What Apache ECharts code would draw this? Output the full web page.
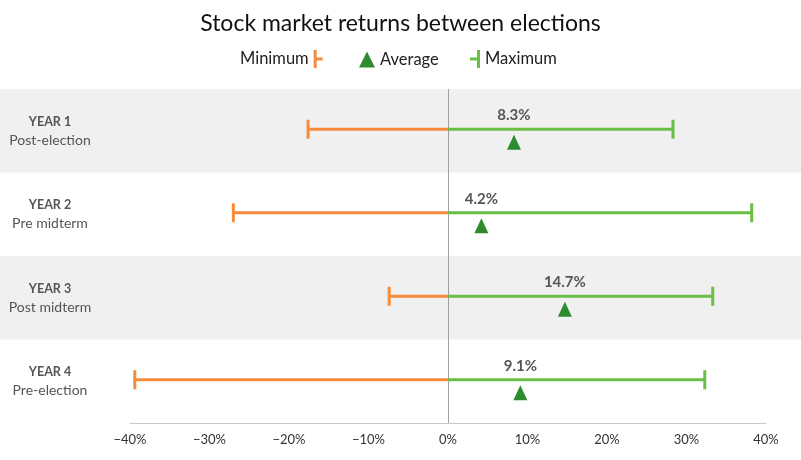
<!DOCTYPE html>
<html>
<head>
<meta charset="utf-8">
<script src="https://cdn.jsdelivr.net/npm/echarts@6/dist/echarts.min.js"></script>
<style>html,body{margin:0;padding:0;background:#fff}#c{width:801px;height:460px}</style>
</head>
<body>
<div id="c"></div>
<script>
const yearLabels = ['YEAR 1', 'YEAR 2', 'YEAR 3', 'YEAR 4'];
const phaseLabels = ['Post-election', 'Pre midterm', 'Post midterm', 'Pre-election'];
const minValues = [-17.6, -27.0, -7.4, -39.4];
const avgValues = [8.3, 4.2, 14.7, 9.1];
const maxValues = [28.3, 38.2, 33.3, 32.3];
const shadedRows = [0, 2];
const xTicks = [-40, -30, -20, -10, 0, 10, 20, 30, 40];

const FONT = 'Lato, "Noto Sans", sans-serif';
const ORANGE = '#F68B3C', LGREEN = '#6BBE45', DGREEN = '#2E8B2E';

function rangeRender(color) {
  return function (params, api) {
    const v = api.value(0), i = api.value(1);
    const p = api.coord([v, i]), z = api.coord([0, i]);
    const y = p[1] - 1.5;
    return {
      type: 'group',
      children: [
        { type: 'line', shape: { x1: z[0], y1: y, x2: p[0], y2: y }, style: { stroke: color, lineWidth: 3 } },
        { type: 'line', shape: { x1: p[0], y1: y - 9.5, x2: p[0], y2: y + 9.5 }, style: { stroke: color, lineWidth: 3 } }
      ]
    };
  };
}

function avgRender(params, api) {
  const v = api.value(0), i = api.value(1);
  const p = api.coord([v, i]);
  const y = p[1] - 1.5;
  const ty = y + 13;
  return {
    type: 'group',
    children: [
      { type: 'polygon', shape: { points: [[p[0], ty - 7.5], [p[0] + 7, ty + 7.5], [p[0] - 7, ty + 7.5]] }, style: { fill: DGREEN } },
      { type: 'text', x: p[0], y: y - 14, style: { text: v.toFixed(1) + '%', textAlign: 'center', textVerticalAlign: 'middle', align: 'center', verticalAlign: 'middle', fontSize: 15, fontWeight: 'bold', fontFamily: FONT, fill: '#555' } }
    ]
  };
}

function bandRender(params, api) {
  const i = api.value(0);
  const c = api.coord([0, i]);
  const h = api.size([0, 1])[1];
  return { type: 'rect', shape: { x: 0, y: c[1] - h / 2, width: api.getWidth(), height: h }, style: { fill: '#F0F0F0' } };
}

const legendText = { fontSize: 16.5, color: '#222', fontFamily: FONT };

const chart = echarts.init(document.getElementById('c'), null, { renderer: 'canvas' });
chart.setOption({
  animation: false,
  backgroundColor: '#fff',
  textStyle: { fontFamily: FONT },
  title: {
    text: 'Stock market returns between elections',
    left: 'center', top: 7,
    textStyle: { fontSize: 23, fontWeight: 'normal', color: '#111', fontFamily: FONT }
  },
  legend: [
    {
      left: 240, top: 50, padding: 0, align: 'right', itemWidth: 9, itemHeight: 18, selectedMode: false,
      textStyle: legendText,
      data: [{ name: 'Minimum', icon: 'path://M0,0L3,0L3,7.5L9,7.5L9,10.5L3,10.5L3,18L0,18Z', itemStyle: { color: ORANGE } }]
    },
    {
      left: 359, top: 51, padding: 0, itemWidth: 16, itemHeight: 16, selectedMode: false,
      textStyle: legendText,
      data: [{ name: 'Average', icon: 'triangle', itemStyle: { color: DGREEN } }]
    },
    {
      left: 470, top: 50, padding: 0, itemWidth: 10, itemHeight: 18, selectedMode: false,
      textStyle: legendText,
      data: [{ name: 'Maximum', icon: 'path://M7,0L10,0L10,18L7,18L7,10.5L0,10.5L0,7.5L7,7.5Z', itemStyle: { color: LGREEN } }]
    }
  ],
  grid: { left: 130, right: 35, top: 89, bottom: 37, containLabel: false },
  xAxis: {
    type: 'value', min: xTicks[0], max: xTicks[xTicks.length - 1], interval: 10,
    axisLine: { show: true, lineStyle: { color: '#C8C8C8', width: 1 } },
    axisTick: { show: false },
    splitLine: { show: false },
    axisLabel: { color: '#333', fontSize: 13, margin: 10, fontFamily: FONT, formatter: v => (v < 0 ? '\u2212' + Math.abs(v) : v) + '%' }
  },
  yAxis: {
    type: 'category', inverse: true,
    data: yearLabels,
    axisLine: { show: false }, axisTick: { show: false }, splitLine: { show: false },
    axisLabel: {
      align: 'center', margin: 80,
      formatter: (val, idx) => '{b|' + val + '}\n{r|' + phaseLabels[idx] + '}',
      rich: {
        b: { fontWeight: 'bold', fontSize: 12.5, color: '#555', lineHeight: 19, fontFamily: FONT },
        r: { fontSize: 14, color: '#555', lineHeight: 18, fontFamily: FONT }
      }
    }
  },
  series: [
    {
      name: 'bands', type: 'custom', z: -1, silent: true, clip: false,
      renderItem: bandRender,
      encode: { y: 0 },
      data: shadedRows.map(i => [i])
    },
    {
      name: 'Minimum', type: 'custom', z: 3, itemStyle: { color: ORANGE },
      renderItem: rangeRender(ORANGE),
      encode: { x: 0, y: 1 },
      data: minValues.map((v, i) => [v, i]),
      markLine: {
        silent: true, symbol: 'none', z: 1, label: { show: false },
        lineStyle: { color: '#A0A0A0', width: 1, type: 'solid' },
        data: [{ xAxis: 0 }]
      }
    },
    {
      name: 'Maximum', type: 'custom', z: 3, itemStyle: { color: LGREEN },
      renderItem: rangeRender(LGREEN),
      encode: { x: 0, y: 1 },
      data: maxValues.map((v, i) => [v, i])
    },
    {
      name: 'Average', type: 'custom', z: 4, itemStyle: { color: DGREEN },
      renderItem: avgRender,
      encode: { x: 0, y: 1 },
      data: avgValues.map((v, i) => [v, i])
    }
  ]
});
</script>
</body>
</html>
